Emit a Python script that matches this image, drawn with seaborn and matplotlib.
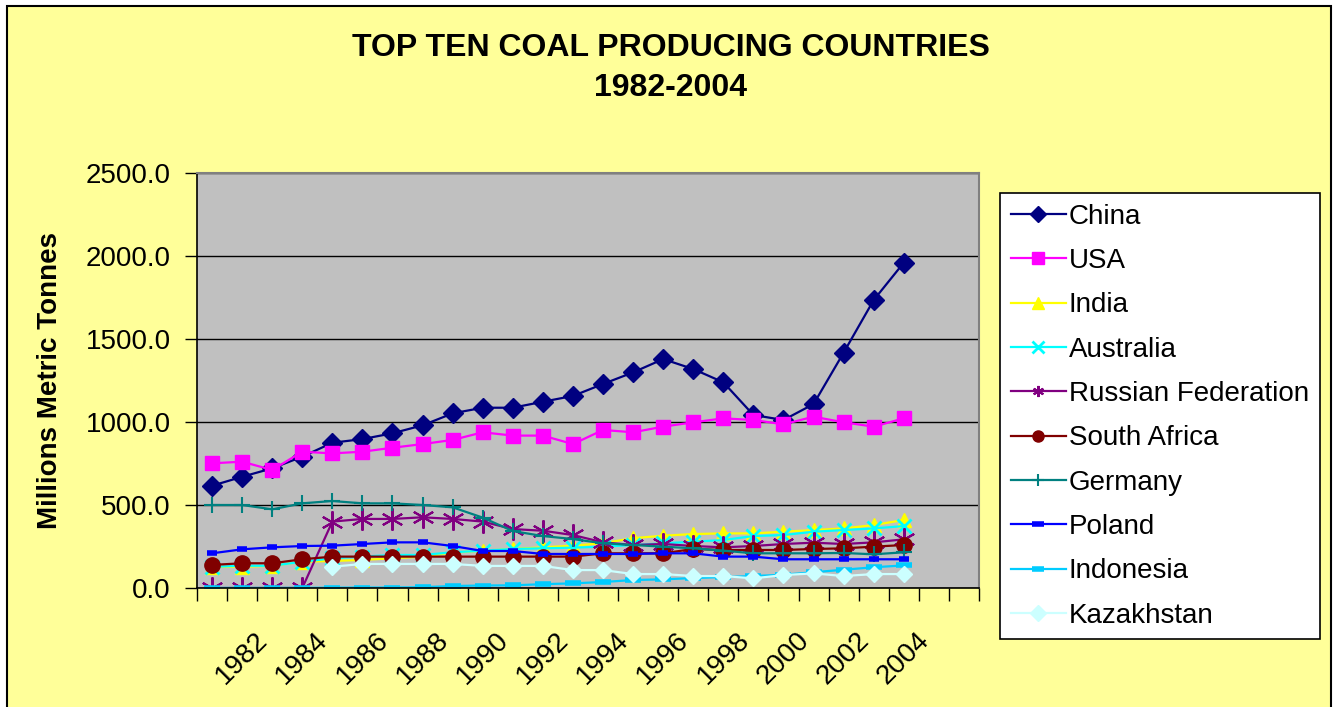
import numpy as np
import pandas as pd
import seaborn as sns
import matplotlib.pyplot as plt
from matplotlib.patches import Rectangle

# coal production, million metric tonnes, 1981-2004
years = list(range(1981, 2005))
china = [616, 670, 721, 791, 875, 897, 932, 980, 1052, 1086, 1086, 1122, 1157, 1229,
         1299, 1379, 1319, 1239, 1042, 1012, 1108, 1418, 1735, 1960]
usa = [751, 761, 711, 821, 811, 821, 845, 867, 892, 938, 918, 918, 867, 952,
       938, 972, 998, 1022, 1012, 986, 1032, 998, 972, 1022]
india = [128, 128, 134, 158, 163, 169, 179, 189, 213, 225, 235, 245, 255, 270,
         300, 315, 325, 329, 329, 339, 349, 359, 379, 410]
australia = [128, 134, 134, 158, 179, 189, 199, 199, 215, 225, 235, 239, 243, 249,
             259, 269, 279, 289, 313, 319, 339, 349, 359, 373]
russia = [0, 0, 0, 0, 400, 416, 416, 426, 416, 400, 355, 345, 319, 275,
          259, 265, 253, 245, 253, 265, 273, 265, 275, 293]
south_africa = [139, 149, 149, 173, 189, 189, 189, 189, 189, 189, 189, 189, 189, 209,
                209, 209, 235, 229, 229, 229, 235, 239, 249, 259]
germany = [500, 500, 474, 510, 524, 510, 510, 500, 486, 424, 343, 313, 295, 269,
           259, 249, 239, 225, 209, 209, 209, 211, 203, 215]
poland = [209, 233, 245, 253, 255, 265, 275, 275, 253, 223, 223, 205, 205, 205,
          205, 209, 209, 189, 189, 173, 173, 173, 173, 173]
indonesia = [0.4, 0.5, 0.5, 1, 2, 3, 3, 5, 12, 15, 16, 23, 28, 36,
             48, 52, 60, 66, 72, 80, 95, 110, 125, 136]
kazakhstan = [np.nan, np.nan, np.nan, np.nan, 128, 145, 145, 145, 145, 133, 133, 133, 108, 108,
              84, 84, 72, 72, 58, 78, 88, 72, 84, 84]

countries = ["China", "USA", "India", "Australia", "Russian Federation",
             "South Africa", "Germany", "Poland", "Indonesia", "Kazakhstan"]
series = [china, usa, india, australia, russia, south_africa, germany, poland, indonesia, kazakhstan]
colors = ["#000080", "#FF00FF", "#FFFF00", "#00FFFF", "#800080",
          "#800000", "#008080", "#0000FF", "#00CCFF", "#CCFFFF"]
# marker, size, edge width
styles = [("D", 10, 1), ("s", 10, 1), ("^", 10, 1), ("x", 10, 2), ((6, 2, 0), 16, 1.5),
          ("o", 11, 1), ("+", 12, 1.5), ("_", 7, 4), ("_", 12, 4), ("D", 8, 1)]

fig = plt.figure(figsize=(13.38, 7.07), dpi=100, facecolor="white")
plt.rcParams["font.family"] = ["Liberation Sans", "DejaVu Sans"]
bg = Rectangle((7 / 1338, -0.05), 1324 / 1338, 1.05 - 6 / 707,
               transform=fig.transFigure, facecolor="#FFFF99",
               edgecolor="black", linewidth=1.5, zorder=-10)
fig.patches.append(bg)

ax = fig.add_axes([197 / 1338, 119 / 707, 782 / 1338, 415 / 707])
ax.set_zorder(1)
ax.set_facecolor("#C0C0C0")

for name, vals, col, (mk, ms, mew) in zip(countries, series, colors, styles):
    df = pd.DataFrame({"Year": years, "Value": vals})
    sns.lineplot(data=df, x="Year", y="Value", ax=ax, color=col, linewidth=1.6,
                 marker=mk, markersize=ms, markeredgewidth=mew,
                 markeredgecolor=col, markerfacecolor=col, label=name,
                 errorbar=None)

ax.set_xlim(1980.5, 2006.5)
ax.set_ylim(0, 2500)
ax.set_yticks(np.arange(0, 2501, 500))
ax.set_yticklabels([f"{v:.1f}" for v in np.arange(0, 2501, 500)], fontsize=20)
ax.set_xticks(list(range(1982, 2005, 2)))
ax.set_xticklabels([str(y) for y in range(1982, 2005, 2)], fontsize=20, rotation=45,
                   ha="center")
ax.set_xticks(np.arange(1980.5, 2007, 1), minor=True)
ax.tick_params(axis="x", which="major", length=0, pad=28)
ax.tick_params(axis="x", which="minor", length=9, width=1, direction="out")
ax.tick_params(axis="y", length=9, width=1, direction="out", pad=10)
ax.grid(axis="y", color="black", linewidth=1)
ax.set_axisbelow(True)
ax.set_xlabel("")
ax.set_ylabel("Millions Metric Tonnes", fontsize=20, fontweight="bold", labelpad=16)
for side in ["top", "right"]:
    ax.spines[side].set_color("#808080")
    ax.spines[side].set_linewidth(1.5)
for side in ["left", "bottom"]:
    ax.spines[side].set_color("black")
    ax.spines[side].set_linewidth(1.2)

fig.text(671 / 1338, 1 - 68 / 707, "TOP TEN COAL PRODUCING COUNTRIES\n1982-2004",
         ha="center", va="center", fontsize=23, fontweight="bold", linespacing=1.45)

leg = ax.legend(loc="upper left", bbox_to_anchor=(1000 / 1338, 1 - 193 / 707),
                bbox_transform=fig.transFigure, fontsize=20, frameon=True,
                fancybox=False, framealpha=1, edgecolor="black", facecolor="white",
                handlelength=2.0, labelspacing=0.66, borderpad=0.38, handletextpad=0.1,
                borderaxespad=0)
leg.get_frame().set_linewidth(1.2)
for h in leg.legend_handles:
    h.set_markersize(8)

fig.savefig("out.png", dpi=100, facecolor="white")
